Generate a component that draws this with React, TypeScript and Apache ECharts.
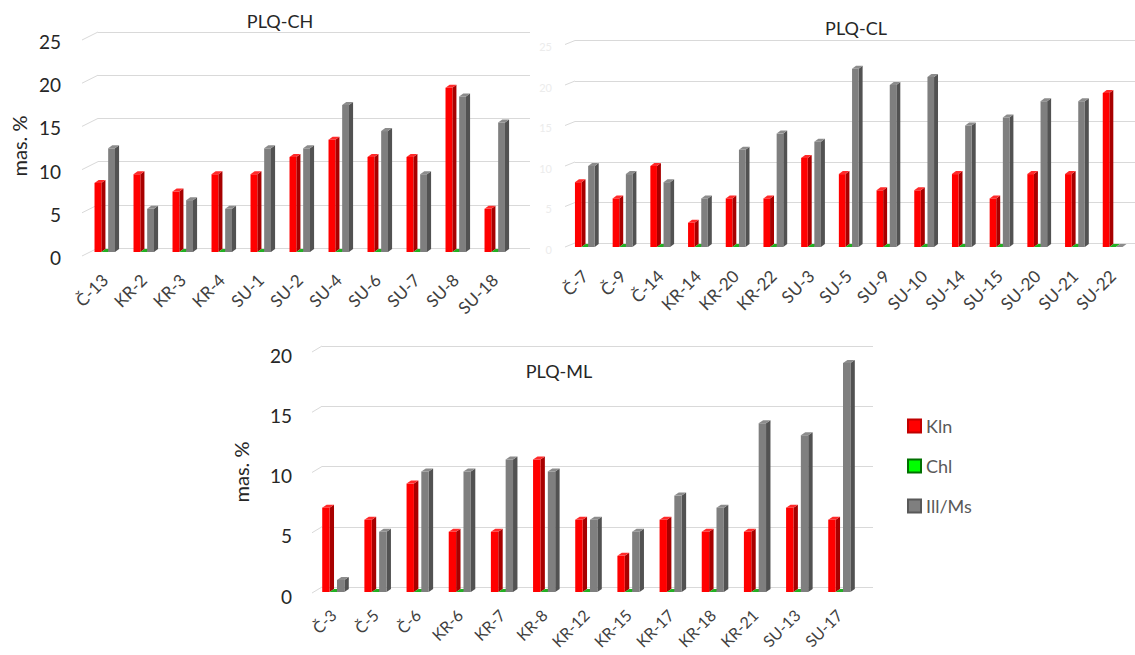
import React, { useEffect, useRef } from "react";
import * as echarts from "echarts";

const FONT = "Lato";

const CH_CATS = ["Č-13", "KR-2", "KR-3", "KR-4", "SU-1", "SU-2", "SU-4", "SU-6", "SU-7", "SU-8", "SU-18"];
const CH_KLN = [8, 9, 7, 9, 9, 11, 13, 11, 11, 19, 5];
const CH_CHL = [0, 0, 0, 0, 0, 0, 0, 0, 0, 0, 0];
const CH_ILL = [12, 5, 6, 5, 12, 12, 17, 14, 9, 18, 15];

const CL_CATS = ["Č-7", "Č-9", "Č-14", "KR-14", "KR-20", "KR-22", "SU-3", "SU-5", "SU-9", "SU-10", "SU-14", "SU-15", "SU-20", "SU-21", "SU-22"];
const CL_KLN = [8, 6, 10, 3, 6, 6, 11, 9, 7, 7, 9, 6, 9, 9, 19];
const CL_CHL = [0, 0, 0, 0, 0, 0, 0, 0, 0, 0, 0, 0, 0, 0, 0];
const CL_ILL = [10, 9, 8, 6, 12, 14, 13, 22, 20, 21, 15, 16, 18, 18, 0];

const ML_CATS = ["Č-3", "Č-5", "Č-6", "KR-6", "KR-7", "KR-8", "KR-12", "KR-15", "KR-17", "KR-18", "KR-21", "SU-13", "SU-17"];
const ML_KLN = [7, 6, 9, 5, 5, 11, 6, 3, 6, 5, 5, 7, 6];
const ML_CHL = [0, 0, 0, 0, 0, 0, 0, 0, 0, 0, 0, 0, 0];
const ML_ILL = [1, 5, 10, 10, 11, 10, 6, 5, 8, 7, 14, 13, 19];

const CH_TICKS = [0, 5, 10, 15, 20, 25];
const CL_TICKS = [0, 5, 10, 15, 20, 25];
const ML_TICKS = [0, 5, 10, 15, 20];

const SERIES_NAMES = ["Kln", "Chl", "Ill/Ms"];
const COLORS = [
  { front: "#ff0000", side: "#a80000", top: "#ff2a2a", legend: "#ff0000", border: "#c00000" },
  { front: "#14a014", side: "#0a700a", top: "#22b022", legend: "#00ff00", border: "#007000" },
  { front: "#7f7f7f", side: "#525252", top: "#8c8c8c", legend: "#7f7f7f", border: "#595959" },
];

function bar3D(slot: number, c: any) {
  return (params: any, api: any) => {
    const idx = api.value(0);
    const val = api.value(1);
    const band = api.size([1, 0])[0];
    const bw = band * 0.175;
    const base = api.coord([idx, 0]);
    const top = api.coord([idx, val]);
    const cx = base[0] + (slot - 1) * bw;
    const x0 = cx - bw / 2;
    const x1 = cx + bw / 2;
    const yb = base[1];
    const yt = top[1];
    const dx = Math.max(3.5, bw * 0.6);
    const dy = 3;
    return {
      type: "group",
      children: [
        {
          type: "polygon",
          shape: { points: [[x1, yt], [x1 + dx, yt - dy], [x1 + dx, yb - dy], [x1, yb]] },
          style: { fill: c.side },
        },
        {
          type: "rect",
          shape: { x: x0, y: yt, width: bw, height: Math.max(0, yb - yt) },
          style: { fill: c.front },
        },
        {
          type: "polygon",
          shape: { points: [[x0, yt], [x0 + dx, yt - dy], [x1 + dx, yt - dy], [x1, yt]] },
          style: { fill: c.top },
        },
      ],
    };
  };
}

function slant(sw: number, sh: number) {
  return (params: any, api: any) => {
    const p = api.coord([0, api.value(1)]);
    return {
      type: "line",
      shape: { x1: p[0] - sw, y1: p[1] + sh, x2: p[0], y2: p[1] },
      style: { stroke: "#d9d9d9", lineWidth: 1 },
    };
  };
}

export default function App() {
  const ref = useRef<HTMLDivElement>(null);
  useEffect(() => {
    if (!ref.current) return;
    const chart = echarts.init(ref.current, null, { renderer: "svg" });

    const grids = [
      { left: 98, top: 32, width: 432, height: 216 },
      { left: 85.25, top: 36, width: 429, height: 216 },
      { left: 575, top: 40.5, width: 560, height: 202.5 },
      { left: 566, top: 44.5, width: 565.5, height: 202.5 },
      { left: 322, top: 346, width: 551, height: 241 },
      { left: 312.2, top: 351, width: 548.2, height: 241 },
    ].map((g) => ({ ...g, outerBoundsMode: "none", containLabel: false }));

    const bgX = (gi: number) => ({ type: "value", gridIndex: gi, min: 0, max: 1, show: false });
    const catX = (gi: number, cats: string[], margin: number, fontSize: number) => ({
      type: "category",
      gridIndex: gi,
      data: cats,
      boundaryGap: true,
      axisLine: { show: false },
      axisTick: { show: false },
      axisLabel: { rotate: 45, margin, fontSize, color: "#404040", fontFamily: FONT, interval: 0 },
    });
    const bgY = (gi: number, max: number, label: any) => ({
      type: "value",
      gridIndex: gi,
      min: 0,
      max,
      interval: 5,
      axisLine: { show: false },
      axisTick: { show: false },
      splitLine: { show: true, lineStyle: { color: "#d9d9d9", width: 1 } },
      axisLabel: { fontFamily: FONT, verticalAlign: "top", ...label },
    });
    const hidY = (gi: number, max: number) => ({
      type: "value",
      gridIndex: gi,
      min: 0,
      max,
      interval: 5,
      show: false,
      splitLine: { show: false },
    });

    const barSeries = (gi: number, data: number[][]) =>
      data.map((vals, s) => ({
        type: "custom",
        name: SERIES_NAMES[s],
        xAxisIndex: gi,
        yAxisIndex: gi,
        renderItem: bar3D(s, COLORS[s]),
        encode: { x: 0, y: 1 },
        itemStyle: { color: COLORS[s].legend, borderColor: COLORS[s].border, borderWidth: 1 },
        data: vals.map((v, i) => [i, v]),
        z: 3,
      }));
    const slantSeries = (gi: number, ticks: number[], sw: number, sh: number) => ({
      type: "custom",
      xAxisIndex: gi,
      yAxisIndex: gi,
      renderItem: slant(sw, sh),
      encode: { x: 0, y: 1 },
      data: ticks.map((t) => [0, t]),
      silent: true,
      z: 1,
    });

    chart.setOption({
      animation: false,
      backgroundColor: "#ffffff",
      textStyle: { fontFamily: FONT },
      grid: grids,
      xAxis: [
        bgX(0),
        catX(1, CH_CATS, 25, 17),
        bgX(2),
        catX(3, CL_CATS, 26, 17),
        bgX(4),
        catX(5, ML_CATS, 20, 16),
      ],
      yAxis: [
        bgY(0, 25, { fontSize: 19, color: "#262626", margin: 37, lineHeight: 19 }),
        hidY(1, 25),
        bgY(2, 25, { fontSize: 11, color: "#ececec", margin: 23, lineHeight: 12 }),
        hidY(3, 25),
        bgY(4, 20, { fontSize: 19, color: "#262626", margin: 30, lineHeight: 18 }),
        hidY(5, 20),
      ],
      legend: {
        data: SERIES_NAMES,
        orient: "vertical",
        left: 902,
        top: 411,
        icon: "rect",
        itemWidth: 13,
        itemHeight: 13,
        itemGap: 20,
        textStyle: { fontSize: 18, color: "#595959", fontFamily: FONT, lineHeight: 20 },
        selectedMode: false,
      },
      graphic: [
        { type: "text", x: 280, y: 21, style: { text: "PLQ-CH", fontSize: 18, fontFamily: FONT, fill: "#262626", align: "center", verticalAlign: "middle" } },
        { type: "text", x: 856, y: 28, style: { text: "PLQ-CL", fontSize: 18, fontFamily: FONT, fill: "#262626", align: "center", verticalAlign: "middle" } },
        { type: "text", x: 559, y: 371, style: { text: "PLQ-ML", fontSize: 18, fontFamily: FONT, fill: "#262626", align: "center", verticalAlign: "middle" } },
        { type: "text", x: 19, y: 146, rotation: Math.PI / 2, style: { text: "mas. %", fontSize: 20, fontFamily: FONT, fill: "#262626", align: "center", verticalAlign: "middle" } },
        { type: "text", x: 241, y: 472, rotation: Math.PI / 2, style: { text: "mas. %", fontSize: 20, fontFamily: FONT, fill: "#262626", align: "center", verticalAlign: "middle" } },
      ],
      series: [
        slantSeries(0, CH_TICKS, 16, 8),
        slantSeries(2, CL_TICKS, 10, 4),
        slantSeries(4, ML_TICKS, 10, 6),
        ...barSeries(1, [CH_KLN, CH_CHL, CH_ILL]),
        ...barSeries(3, [CL_KLN, CL_CHL, CL_ILL]),
        ...barSeries(5, [ML_KLN, ML_CHL, ML_ILL]),
      ],
    });
    return () => chart.dispose();
  }, []);
  return (
    <div
      ref={ref}
      style={{ position: "fixed", left: 0, top: 0, width: 1135, height: 655, background: "#fff" }}
    />
  );
}
